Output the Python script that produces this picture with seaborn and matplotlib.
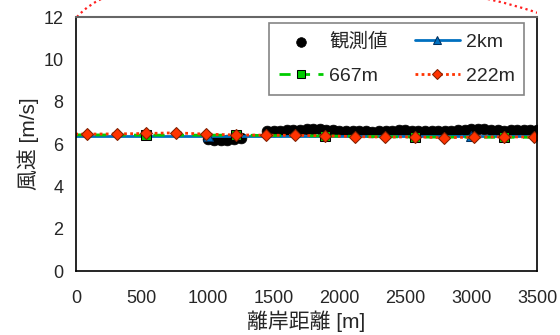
import pandas as pd
import matplotlib
matplotlib.use("Agg")
import matplotlib.pyplot as plt
import seaborn as sns
from matplotlib.patches import PathPatch, Rectangle
from matplotlib.path import Path

# observed wind speed
obs_x = [1000, 1050, 1100, 1150, 1200, 1250,
         1450, 1500, 1550, 1600, 1650, 1700, 1750, 1800, 1850, 1900,
         1950, 2000, 2050, 2100, 2150, 2200, 2250, 2300, 2350, 2400,
         2450, 2500, 2550, 2600, 2650, 2700, 2750, 2800, 2850, 2900,
         2950, 3000, 3050, 3100, 3150, 3200, 3250, 3300, 3350, 3400,
         3450, 3500]
obs_y = [6.25, 6.20, 6.20, 6.20, 6.24, 6.30,
         6.60, 6.62, 6.63, 6.65, 6.66, 6.68, 6.70, 6.70, 6.71, 6.68,
         6.66, 6.63, 6.62, 6.61, 6.60, 6.60, 6.59, 6.60, 6.60, 6.62,
         6.66, 6.65, 6.64, 6.62, 6.60, 6.60, 6.61, 6.62, 6.63, 6.66,
         6.68, 6.70, 6.71, 6.70, 6.68, 6.66, 6.64, 6.65, 6.67, 6.68,
         6.66, 6.66]

# model results (grid 2km / 667m / 222m)
km2_x = [-1000, 1000, 3000, 5000]
km2_y = [6.40, 6.40, 6.40, 6.40]

m667_x = [-150, 531, 1215, 1890, 2574, 3250, 3930]
m667_y = [6.44, 6.42, 6.42, 6.38, 6.33, 6.32, 6.32]

m222_x = [-145, 83, 311, 531, 759, 987, 1215, 1443, 1663, 1890, 2118,
          2346, 2574, 2794, 3022, 3250, 3477, 3705]
m222_y = [6.47, 6.47, 6.48, 6.50, 6.53, 6.47, 6.43, 6.42, 6.41, 6.39, 6.35,
          6.33, 6.34, 6.30, 6.33, 6.34, 6.33, 6.33]

sns.set_style("white")
plt.rcParams["font.family"] = ["Liberation Sans", "Noto Sans CJK JP", "DejaVu Sans"]

fig = plt.figure(figsize=(5.6, 3.35), dpi=100)
ax = fig.add_axes([0.1357, 0.191, 0.8233, 0.758])
ax.set_zorder(2)

# red dotted callout outline behind the chart (only the top strip shows)
curve = Path([(77, 318), (137, 388), (425, 362), (541, 321)],
             [Path.MOVETO, Path.CURVE4, Path.CURVE4, Path.CURVE4])
callout = PathPatch(curve, transform=None, fill=False, edgecolor="#ff2020",
                    linestyle=(0, (1, 1.5)), linewidth=1.6)
fig.patches.append(callout)
callout.set_clip_path(Rectangle((0, 318), 537, 20, transform=None))

blue = "#0070c0"
green = "#00cc00"
red = "#ff3300"

sns.lineplot(x=km2_x, y=km2_y, ax=ax, color=blue, linewidth=2,
             marker="^", markersize=7, markerfacecolor=blue,
             markeredgecolor="#003060", label="2km", sort=False)
sns.lineplot(x=m667_x, y=m667_y, ax=ax, color=green, linewidth=2,
             linestyle=(0, (4, 3)), marker="s", markersize=7,
             markerfacecolor=green, markeredgecolor="black",
             label="667m", sort=False)
sns.lineplot(x=m222_x, y=m222_y, ax=ax, color=red, linewidth=2,
             linestyle=(0, (1, 1.2)), marker="D", markersize=6,
             markerfacecolor=red, markeredgecolor="#802000",
             label="222m", sort=False)
sns.scatterplot(x=obs_x, y=obs_y, ax=ax, color="black", s=60,
                edgecolor="black", linewidth=0.5, label="観測値", zorder=1.5)

ax.set_xlim(0, 3500)
ax.set_ylim(0, 12)
ax.set_xticks([0, 500, 1000, 1500, 2000, 2500, 3000, 3500])
ax.set_yticks([0, 2, 4, 6, 8, 10, 12])
ax.tick_params(direction="inout", length=10, width=1, labelsize=13,
               color="black", pad=4)
ax.tick_params(axis="x", pad=9)
ax.set_xlabel("離岸距離 [m]", fontsize=15, labelpad=2)
ax.set_ylabel("風速 [m/s]", fontsize=15, labelpad=3)
for s in ["left", "bottom", "right"]:
    ax.spines[s].set_color("black")
    ax.spines[s].set_linewidth(1.2)
ax.spines["top"].set_color("#666666")
ax.spines["top"].set_linewidth(1.5)

h, l = ax.get_legend_handles_labels()
order = [l.index("観測値"), l.index("667m"), l.index("2km"), l.index("222m")]
leg = ax.legend([h[i] for i in order], [l[i] for i in order], ncol=2,
                loc="upper right", bbox_to_anchor=(0.972, 0.976),
                borderaxespad=0, fontsize=14, frameon=True, fancybox=False,
                handlelength=2.3, columnspacing=1.4, handletextpad=0.3,
                borderpad=0.5, labelspacing=0.85, markerscale=0.9)
leg.get_frame().set_edgecolor("#666666")
leg.get_frame().set_linewidth(1.2)

fig.savefig("out.png", dpi=100)
